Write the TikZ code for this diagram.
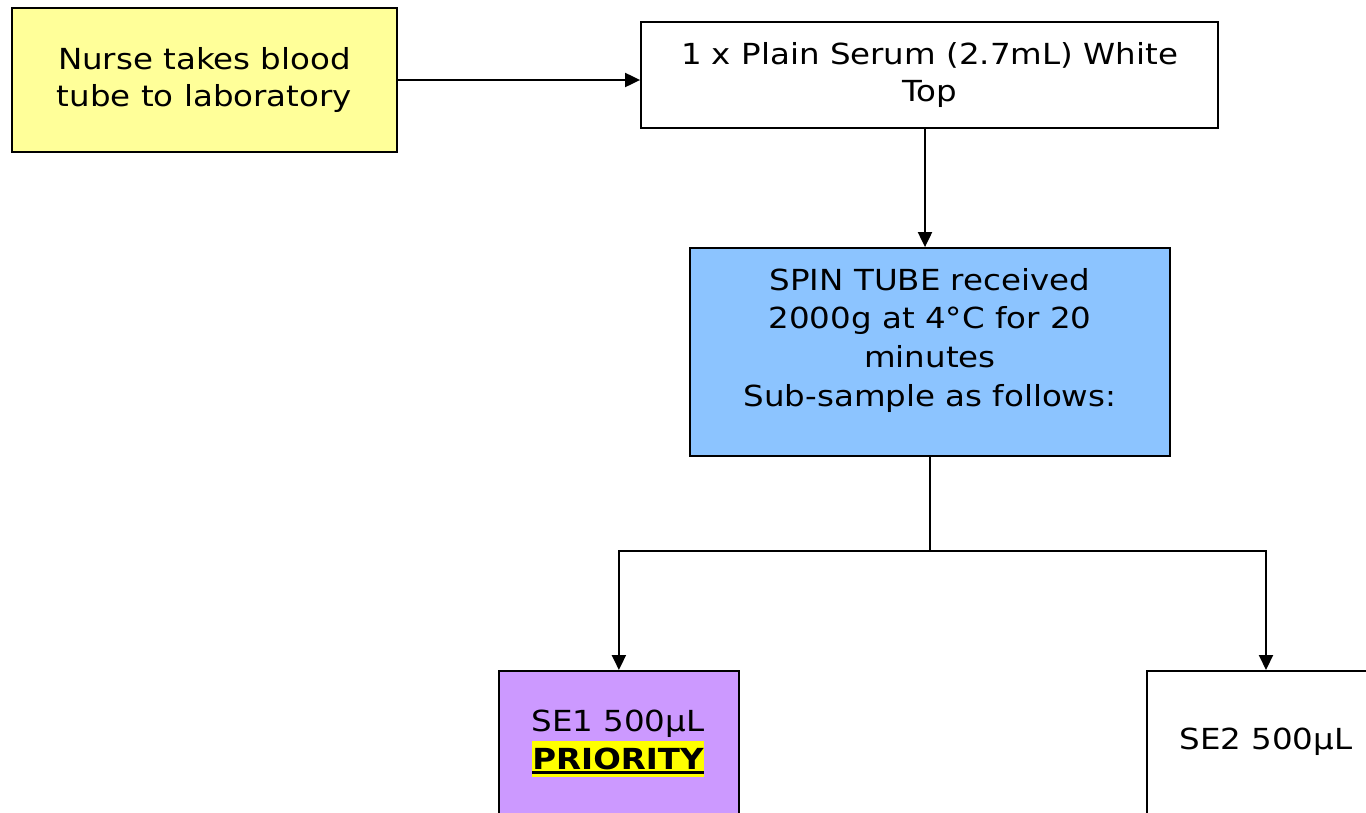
\documentclass[tikz,border=0pt]{standalone}
\usepackage{fontspec}
\setmainfont[FakeStretch=1.12]{DejaVu Sans}
\usetikzlibrary{arrows.meta}
\definecolor{boxyellow}{HTML}{FFFF99}
\definecolor{boxblue}{HTML}{8CC4FF}
\definecolor{boxpurple}{HTML}{CC99FF}
\definecolor{hiyellow}{HTML}{FFFF00}
\newsavebox\priobox
\newcommand\prioritytext{%
  \sbox\priobox{\bfseries PRIORITY}%
  {\setlength\fboxsep{0pt}\colorbox{hiyellow}{\rule[-7pt]{0pt}{36pt}\rlap{\rule[-4pt]{\wd\priobox}{3pt}}\usebox\priobox}}}
\begin{document}
\begin{tikzpicture}[x=1pt,y=-1pt,
  txt/.style={font=\fontsize{29}{37}\selectfont},
  box/.style={draw=black,line width=1.8pt,inner sep=0pt,align=center,txt},
  conn/.style={line width=2pt,draw=black},
  arr/.style={conn,-{Triangle[length=15pt,width=14pt]}}]
\useasboundingbox (0,0) rectangle (1366,812);
\clip (0,0) rectangle (1366,812);
\fill[white] (0,0) rectangle (1366,812);
\node[box,fill=boxyellow,minimum width=385pt,minimum height=144pt] (nurse) at (204.5,80) {Nurse takes blood\\tube to laboratory};
\node[box,fill=white,minimum width=577pt,minimum height=106pt] (plain) at (929.5,75) {1 x Plain Serum (2.7mL) White\\Top};
\node[box,fill=boxblue,minimum width=480pt,minimum height=208pt] (spin) at (930,352) {};
\node[font=\fontsize{29}{38.7}\selectfont,align=center,anchor=north,inner sep=0pt] (spintext) at (930,268) {SPIN TUBE received\\2000g at 4°C for 20\\minutes\\Sub-sample as follows:};
\node[box,fill=boxpurple,minimum width=240pt,minimum height=200pt,anchor=north west] (se1) at (498,670) {};
\node[align=center,inner sep=0pt,anchor=north,font=\fontsize{29}{38}\selectfont] (se1text) at (618,710) {SE1 500µL\\\prioritytext};
\node[box,fill=white,minimum width=260pt,minimum height=200pt,anchor=north west] (se2) at (1146,670) {};
\node[inner sep=0pt,txt] (se2text) at (1266,742) {SE2 500µL};
\coordinate (split) at (930,551);
\coordinate (se2in) at (1266,670);
\coordinate (plaindown) at (925,128);
\draw[arr] (nurse.east) -- (nurse.east -| plain.west);
\draw[arr] (plaindown) -- (plaindown |- spin.north);
\draw[conn] (spin.south) -- (split);
\draw[arr] (split) -| (se1.north);
\draw[arr] (split) -| (se2in);
\end{tikzpicture}
\end{document}
